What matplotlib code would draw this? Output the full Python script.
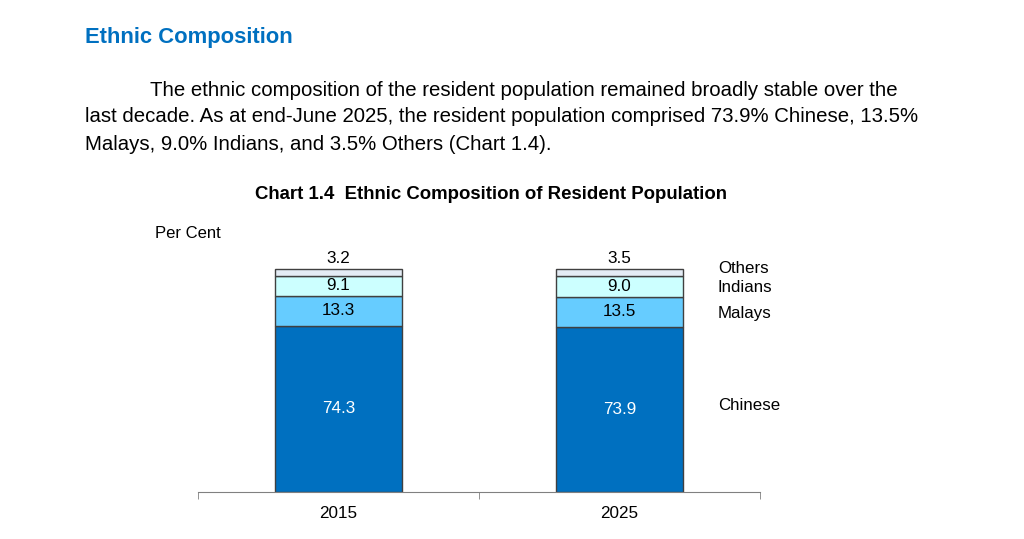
import matplotlib
matplotlib.use("Agg")
import matplotlib.pyplot as plt
import numpy as np

plt.rcParams["font.family"] = ["Liberation Sans", "DejaVu Sans"]

years = ["2015", "2025"]
groups = ["Chinese", "Malays", "Indians", "Others"]
shares = {
    "Chinese": [74.3, 73.9],
    "Malays": [13.3, 13.5],
    "Indians": [9.1, 9.0],
    "Others": [3.2, 3.5],
}
colors = {
    "Chinese": "#0070C0",
    "Malays": "#66CCFF",
    "Indians": "#CCFFFF",
    "Others": "#E4ECF5",
}

fig = plt.figure(figsize=(10.24, 5.39), dpi=100)

# heading and paragraph text
fig.text(85 / 1024, 1 - 37 / 539, "Ethnic Composition", color="#0070C0",
         fontsize=15.8, fontweight="bold", va="center")
para = [
    (150, "The ethnic composition of the resident population remained broadly stable over the"),
    (85, "last decade. As at end-June 2025, the resident population comprised 73.9% Chinese, 13.5%"),
    (85, "Malays, 9.0% Indians, and 3.5% Others (Chart 1.4)."),
]
for i, (x0, line) in enumerate(para):
    fig.text(x0 / 1024, 1 - (90 + 27 * i) / 539, line, fontsize=14.7, va="center")

fig.text(491 / 1024, 1 - 194 / 539, "Chart 1.4  Ethnic Composition of Resident Population",
         fontsize=13.4, fontweight="bold", ha="center", va="center")
fig.text(155 / 1024, 1 - 233 / 539, "Per Cent", fontsize=12, va="center")

ax = fig.add_axes([198 / 1024, 47 / 539, 562 / 1024, 246 / 539])
x = np.arange(len(years))
width = 0.455
bottom = np.zeros(len(years))
for g in groups:
    vals = np.array(shares[g])
    ax.bar(x, vals, width, bottom=bottom, color=colors[g],
           edgecolor="#404040", linewidth=1.0)
    for xi, b, v in zip(x, bottom, vals):
        if g == "Others":
            ax.text(xi, b + v + 1.2, f"{v:.1f}", ha="center", va="bottom", fontsize=12.3)
        else:
            ax.text(xi, b + v / 2, f"{v:.1f}", ha="center", va="center", fontsize=12.3,
                    color="white" if g == "Chinese" else "black")
    bottom += vals

# series labels to the right of the 2025 bar
label_y = {"Others": 100.0, "Indians": 91.3, "Malays": 79.6, "Chinese": 38.6}
for g in groups:
    ax.text(1.35, label_y[g], g, ha="left", va="center", fontsize=12.2)

ax.set_xlim(-0.5, 1.5)
ax.set_ylim(0, 110)
ax.set_xticks(x)
ax.set_xticklabels(years, fontsize=12.3)
ax.set_xticks([-0.5, 0.5, 1.5], minor=True)
ax.tick_params(axis="x", which="major", length=0, pad=10)
ax.tick_params(axis="x", which="minor", length=5, color="#808080")
ax.set_yticks([])
for side in ["top", "right", "left"]:
    ax.spines[side].set_visible(False)
ax.spines["bottom"].set_color("#808080")

fig.savefig("out.png", dpi=100)
